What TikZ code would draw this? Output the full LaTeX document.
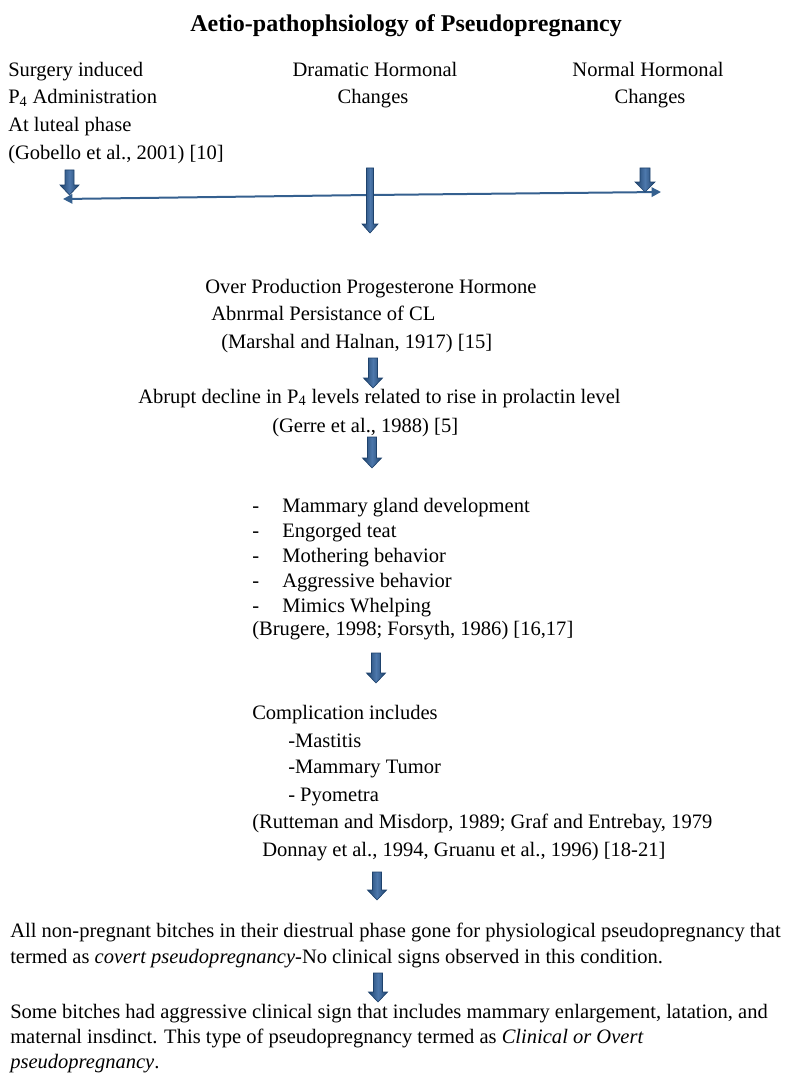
\documentclass[tikz,border=0pt]{standalone}
\usepackage{fontspec}
\setmainfont{Liberation Serif}
\usetikzlibrary{arrows.meta,calc}
\definecolor{arrowdark}{HTML}{1E426C}
\definecolor{arrowlight}{HTML}{4D78AC}
\definecolor{lineblue}{HTML}{35608F}
% #1 top coordinate, #2 tip coordinate, #3 shaft half-width, #4 head half-width, #5 head length (px)
\newcommand{\BlkArrow}[5]{%
  \path[arrowshade] ($(#1)+(-#3,0)$) -- ($(#1)+(#3,0)$) -- ($(#2)+(#3,-#5)$) -- ($(#2)+(#4,-#5)$)
    -- (#2) -- ($(#2)+(-#4,-#5)$) -- ($(#2)+(-#3,-#5)$) -- cycle;}
\begin{document}
\begin{tikzpicture}[x=0.75pt,y=-0.75pt,
  txt/.style={inner sep=0pt,anchor=base west,font=\fontsize{15.4}{18}\selectfont},
  ctxt/.style={txt,anchor=base},
  ttl/.style={inner sep=0pt,anchor=base west,font=\fontsize{18}{21}\selectfont\bfseries},
  arrowshade/.style={left color=arrowdark,right color=arrowdark,middle color=arrowlight,draw=arrowdark,line width=0.5pt},
  thinline/.style={draw=lineblue,line width=1.5pt,-{Triangle[width=7pt,length=7pt]}}]
\useasboundingbox (0,0) rectangle (785,1077);
% title
\node[ttl] (title) at (190,32) {Aetio-pathophsiology of Pseudopregnancy};
% top three sources
\node[txt] (l1) at (8,77) {Surgery induced};
\node[txt] (l2) at (8,104) {P\textsubscript{4} Administration};
\node[txt] (l3) at (8,132) {At luteal phase};
\node[txt] (l4) at (8,160) {(Gobello et al., 2001) [10]};
\node[ctxt] (m1) at (375,77) {Dramatic Hormonal};
\node[ctxt] (m2) at (373,104) {Changes};
\node[ctxt] (r1) at (648,77) {Normal Hormonal};
\node[ctxt] (r2) at (650,104) {Changes};
% connector bar
\coordinate (hub) at (370,195);
\coordinate (barL) at (63,199);
\coordinate (barR) at (661,192);
\draw[thinline] (hub) -- (barL);
\draw[thinline] (hub) -- (barR);
\coordinate (aLt) at (69.5,170); \coordinate (aLb) at (69.5,195);
\coordinate (aRt) at (645,168); \coordinate (aRb) at (645,192);
\BlkArrow{aLt}{aLb}{4.5}{9.5}{10}
\BlkArrow{aRt}{aRb}{5}{10}{10}
\coordinate (aMt) at (370,168); \coordinate (aMb) at (370,233);
\BlkArrow{aMt}{aMb}{3.5}{8}{9}
% progesterone block
\node[txt] (p1) at (205,293) {Over Production Progesterone Hormone};
\node[txt] (p2) at (211,320) {Abnrmal Persistance of CL};
\node[txt] (p3) at (221,348) {(Marshal and Halnan, 1917) [15]};
\coordinate (a3t) at (373,358); \coordinate (a3b) at (373,388);
\BlkArrow{a3t}{a3b}{4.5}{9.5}{10}
\node[txt] (d1) at (138,403) {Abrupt decline in P\textsubscript{4} levels related to rise in prolactin level};
\node[txt] (d2) at (272,432) {(Gerre et al., 1988) [5]};
\coordinate (a4t) at (372,437); \coordinate (a4b) at (372,468);
\BlkArrow{a4t}{a4b}{4.5}{9.5}{10}
% signs list
\foreach \y/\t [count=\i] in {512/Mammary gland development,537/Engorged teat,562/Mothering behavior,587/Aggressive behavior,612/Mimics Whelping}{
  \node[txt] (dash\i) at (252,\y) {-};
  \node[txt] (s\i) at (282,\y) {\t};
}
\node[txt] (s6) at (252,635) {(Brugere, 1998; Forsyth, 1986) [16,17]};
\coordinate (a5t) at (376,653); \coordinate (a5b) at (376,683);
\BlkArrow{a5t}{a5b}{4.5}{9.5}{10}
% complications
\node[txt] (c0) at (252,719) {Complication includes};
\node[txt] (c1) at (288,747) {-Mastitis};
\node[txt] (c2) at (288,773) {-Mammary Tumor};
\node[txt] (c3) at (288,801) {- Pyometra};
\node[txt] (c4) at (252,828) {(Rutteman and Misdorp, 1989; Graf and Entrebay, 1979};
\node[txt] (c5) at (262,856) {Donnay et al., 1994, Gruanu et al., 1996) [18-21]};
\coordinate (a6t) at (377,872); \coordinate (a6b) at (377,900);
\BlkArrow{a6t}{a6b}{4.5}{9.5}{10}
% covert
\node[txt] (v1) at (10,937) {All non-pregnant bitches in their diestrual phase gone for physiological pseudopregnancy that};
\node[txt] (v2) at (10,963) {termed as \textit{covert pseudopregnancy}-No clinical signs observed in this condition.};
\coordinate (a7t) at (378,973); \coordinate (a7b) at (378,1002);
\BlkArrow{a7t}{a7b}{4.5}{9.5}{10}
% overt
\node[txt] (o1) at (10,1018) {Some bitches had aggressive clinical sign that includes mammary enlargement, latation, and};
\node[txt] (o2) at (10,1043) {maternal insdinct. This type of pseudopregnancy termed as \textit{Clinical or Overt}};
\node[txt] (o3) at (10,1068) {\textit{pseudopregnancy}.};
\end{tikzpicture}
\end{document}
